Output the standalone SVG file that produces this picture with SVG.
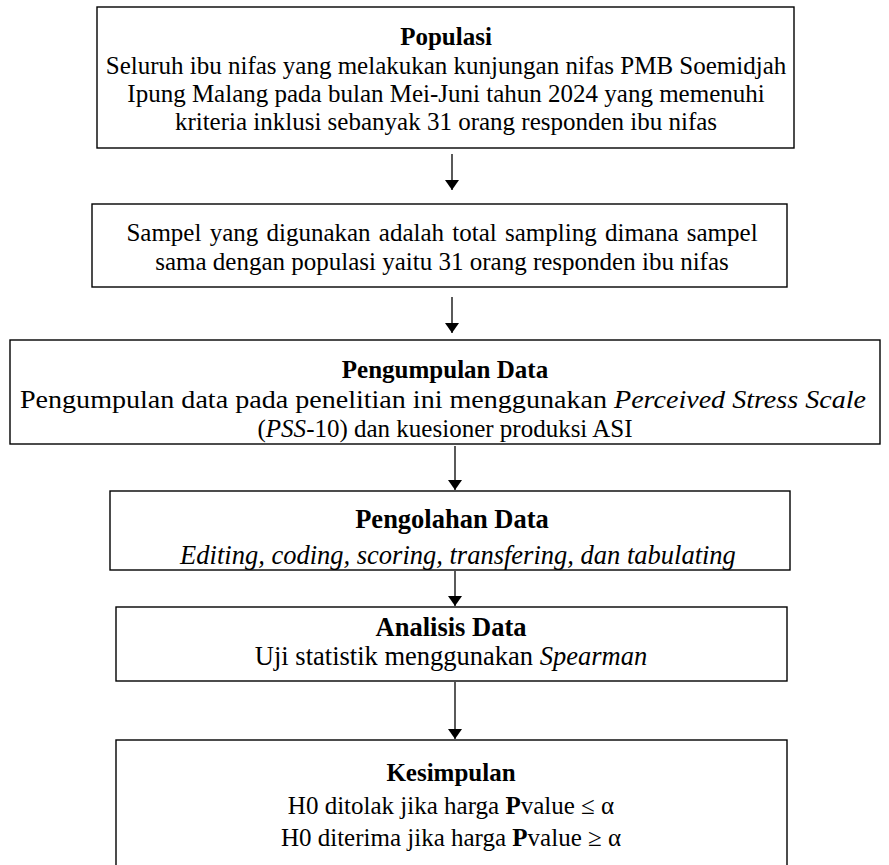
<svg xmlns="http://www.w3.org/2000/svg" width="889" height="865" viewBox="0 0 889 865">
<style>
.box{fill:#fff;stroke:#000;stroke-width:1.4}
.t{font-family:'Liberation Serif','Times New Roman','DejaVu Serif',serif;font-size:25px;fill:#000;text-anchor:middle}
.l{font-size:26.5px}
.b{font-weight:bold}
.i{font-style:italic}
.c{stroke:#000;stroke-width:1.3;fill:none}
</style>
<defs>
<marker id="ah" viewBox="0 0 10 14" refX="10" refY="7" markerWidth="10" markerHeight="14" markerUnits="userSpaceOnUse" orient="auto">
<path d="M0,0 L10,7 L0,14 Z" fill="#000"/>
</marker>
</defs>
<rect width="889" height="865" fill="#fff"/>
<g class="t" font-family="Liberation Serif, Times New Roman, serif">
<g id="n1">
<rect class="box" x="97" y="7" width="697" height="141"/>
<text x="446" y="45" class="b">Populasi</text>
<text x="446" y="74">Seluruh ibu nifas yang melakukan kunjungan nifas PMB Soemidjah</text>
<text x="446" y="102">Ipung Malang pada bulan Mei-Juni tahun 2024 yang memenuhi</text>
<text x="446" y="130">kriteria inklusi sebanyak 31 orang responden ibu nifas</text>
</g>
<g id="n2">
<rect class="box" x="92" y="204" width="695" height="83"/>
<text x="442" y="241" word-spacing="2">Sampel yang digunakan adalah total sampling dimana sampel</text>
<text x="442" y="270">sama dengan populasi yaitu 31 orang responden ibu nifas</text>
</g>
<g id="n3">
<rect class="box" x="10" y="340" width="870" height="104"/>
<text x="445" y="378" class="b">Pengumpulan Data</text>
<text x="443" y="408" textLength="846" lengthAdjust="spacingAndGlyphs">Pengumpulan data pada penelitian ini menggunakan <tspan class="i">Perceived Stress Scale</tspan></text>
<text x="445" y="437">(<tspan class="i">PSS</tspan>-10) dan kuesioner produksi ASI</text>
</g>
<g id="n4">
<rect class="box" x="110" y="491" width="680" height="79"/>
<text x="452" y="528" class="b l">Pengolahan Data</text>
<text x="458" y="564" class="i l">Editing, coding, scoring, transfering, dan tabulating</text>
</g>
<g id="n5">
<rect class="box" x="116" y="607" width="671" height="74"/>
<text x="451" y="636" class="b l">Analisis Data</text>
<text x="451" y="665" class="l">Uji statistik menggunakan <tspan class="i">Spearman</tspan></text>
</g>
<g id="n6">
<rect class="box" x="116" y="740" width="671" height="132"/>
<text x="451" y="781" class="b">Kesimpulan</text>
<text x="451" y="814">H0 ditolak jika harga <tspan class="b">P</tspan>value ≤ α</text>
<text x="451" y="846">H0 diterima jika harga <tspan class="b">P</tspan>value ≥ α</text>
</g>
</g>
<g id="connectors">
<line class="c" x1="452" y1="154" x2="452" y2="190" marker-end="url(#ah)"/>
<line class="c" x1="452" y1="297" x2="452" y2="333" marker-end="url(#ah)"/>
<line class="c" x1="455" y1="446" x2="455" y2="490" marker-end="url(#ah)"/>
<line class="c" x1="455" y1="571" x2="455" y2="606" marker-end="url(#ah)"/>
<line class="c" x1="455" y1="682" x2="455" y2="739" marker-end="url(#ah)"/>
</g>
</svg>
